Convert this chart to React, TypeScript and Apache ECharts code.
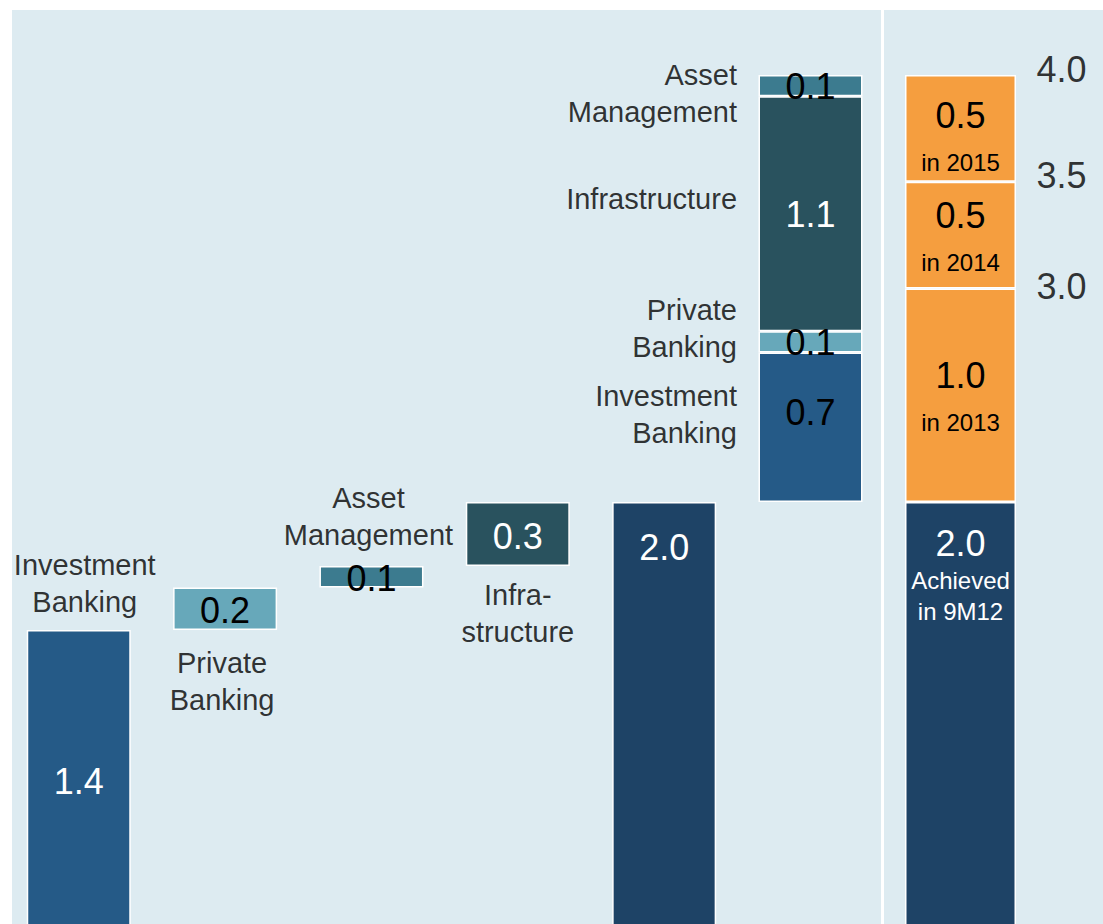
import React, { useEffect, useRef } from 'react';
import * as echarts from 'echarts';

// ---- data ----
const divisions = ['Investment Banking', 'Private Banking', 'Asset Management', 'Infrastructure'];
const waterfallLabels = ['Investment\nBanking', 'Private\nBanking', 'Asset\nManagement', 'Infra-\nstructure'];
const stackLabels = ['Investment\nBanking', 'Private\nBanking', 'Asset\nManagement', 'Infrastructure'];
const achievedValues = [1.4, 0.2, 0.1, 0.3]; // achieved in 9M12 per division
const potentialValues = [0.7, 0.1, 0.1, 1.1]; // further potential per division
const stackOrder = [0, 1, 3, 2]; // bottom -> top in the stacked column
const targetYears = ['2013', '2014', '2015'];
const targetValues = [1.0, 0.5, 0.5];
const achievedCaption = ['Achieved', 'in 9M12'];

const colors = ['#255a87', '#67a8ba', '#3c7b8f', '#29525e'];
const totalColor = '#1e4366';
const orange = '#f59e3f';
const bg = '#ddebf1';
const FONT = "'Liberation Sans', Arial, sans-serif";
const INK = '#000';

const fmt = (v: number) => v.toFixed(1);

export default function App() {
  const ref = useRef<HTMLDivElement>(null);
  useEffect(() => {
    document.body.style.margin = '0';
    if (!ref.current) return;
    const chart = echarts.init(ref.current, undefined, { renderer: 'svg' });

    const total = achievedValues.reduce((a, b) => a + b, 0);
    const bases: number[] = [];
    let acc = 0;
    achievedValues.forEach((v) => {
      bases.push(acc);
      acc += v;
    });
    const cats0 = [...divisions, 'Total', 'Potential'];
    const nCol = cats0.length;

    const baseSeries = {
      type: 'bar',
      xAxisIndex: 0,
      yAxisIndex: 0,
      stack: 'w',
      barWidth: 104,
      silent: true,
      itemStyle: { color: 'rgba(0,0,0,0)' },
      data: [...bases, 0, total],
    };

    const waterfallTextColor = ['#fff', INK, INK, '#fff'];
    const stackTextColor = [INK, INK, INK, '#fff'];
    const stackTextOffset = [[0, -15], [0, 1], [0, 1], [0, 1]];

    const divisionSeries = stackOrder.map((d) => {
      const data: any[] = new Array(nCol).fill('-');
      data[d] = {
        value: achievedValues[d],
        label: {
          show: true,
          position: 'inside',
          color: waterfallTextColor[d],
          offset: [0, 2],
          formatter: fmt(achievedValues[d]),
        },
      };
      data[5] = {
        value: potentialValues[d],
        label: {
          show: true,
          position: 'inside',
          color: stackTextColor[d],
          offset: stackTextOffset[d],
          formatter: fmt(potentialValues[d]),
        },
      };
      return {
        type: 'bar',
        name: divisions[d],
        xAxisIndex: 0,
        yAxisIndex: 0,
        stack: 'w',
        barWidth: 104,
        itemStyle: { color: colors[d], borderColor: '#fff', borderWidth: 1.5 },
        label: { fontFamily: FONT, fontSize: 36 },
        data,
      };
    });

    const totalData: any[] = new Array(nCol).fill('-');
    totalData[4] = {
      value: total,
      label: {
        show: true,
        position: 'insideTop',
        distance: 27,
        color: '#fff',
        lineHeight: 36,
        formatter: fmt(total),
      },
    };
    const totalSeries = {
      type: 'bar',
      name: 'Total',
      xAxisIndex: 0,
      yAxisIndex: 0,
      stack: 'w',
      barWidth: 104,
      itemStyle: { color: totalColor, borderColor: '#fff', borderWidth: 1.5 },
      label: { fontFamily: FONT, fontSize: 36 },
      data: totalData,
    };

    // annotation labels for the waterfall bars
    const wfDist = [9, 14, 12, 10];
    const wfOffX = [6, -3, -3, 0];
    const wfAnnot = divisions.map((_, i) => {
      const top = i % 2 === 0;
      return {
        value: [i, top ? bases[i] + achievedValues[i] : bases[i]],
        label: {
          show: true,
          position: top ? 'top' : 'bottom',
          distance: wfDist[i],
          offset: [wfOffX[i], 0],
          formatter: waterfallLabels[i],
        },
      };
    });
    // annotation labels for the stacked potential column
    const stOffY = [-12.5, -13.5, 7.5, -15];
    let sAcc = total;
    const stAnnot = stackOrder.map((d) => {
      const mid = sAcc + potentialValues[d] / 2;
      sAcc += potentialValues[d];
      return {
        value: [5, mid],
        label: {
          show: true,
          position: 'left',
          distance: 73,
          align: 'right',
          offset: [0, stOffY[d]],
          formatter: stackLabels[d],
        },
      };
    });
    const annotSeries = {
      type: 'scatter',
      xAxisIndex: 0,
      yAxisIndex: 0,
      symbolSize: 1,
      silent: true,
      clip: false,
      itemStyle: { color: 'rgba(0,0,0,0)' },
      label: { fontFamily: FONT, fontSize: 29, lineHeight: 37, color: INK },
      data: [...wfAnnot, ...stAnnot],
    };

    // target column (grid 1)
    const targetBase = {
      type: 'bar',
      xAxisIndex: 1,
      yAxisIndex: 1,
      stack: 't',
      barWidth: 111,
      itemStyle: { color: totalColor, borderColor: '#fff', borderWidth: 1.5 },
      label: {
        show: true,
        position: 'insideTop',
        distance: 19,
        color: '#fff',
        formatter: `{v|${fmt(total)}}\n{s|${achievedCaption[0]}}\n{s|${achievedCaption[1]}}`,
        rich: {
          v: { fontFamily: FONT, fontSize: 36, lineHeight: 44, color: '#fff' },
          s: { fontFamily: FONT, fontSize: 24, lineHeight: 31, color: '#fff' },
        },
      },
      data: [total],
    };
    const yearOffsets = [[0, 5], [0, 5], [0, 12]];
    const yearSeries = targetYears.map((y, i) => ({
      type: 'bar',
      name: y,
      xAxisIndex: 1,
      yAxisIndex: 1,
      stack: 't',
      barWidth: 111,
      itemStyle: { color: orange, borderColor: '#fff', borderWidth: 1.5 },
      label: {
        show: true,
        position: 'inside',
        offset: yearOffsets[i],
        formatter: `{v|${fmt(targetValues[i])}}\n{s|in ${y}}`,
        rich: {
          v: { fontFamily: FONT, fontSize: 36, lineHeight: 44, color: INK },
          s: { fontFamily: FONT, fontSize: 24, lineHeight: 50, color: INK },
        },
      },
      data: [targetValues[i]],
    }));
    const cumOff = [-2.5, -6, -5.5];
    let cAcc = total;
    const cumData = targetValues.map((v, i) => {
      cAcc += v;
      return {
        value: [0, cAcc],
        label: {
          show: true,
          position: 'right',
          distance: 75.5,
          offset: [0, cumOff[i]],
          formatter: fmt(cAcc),
        },
      };
    });
    const cumSeries = {
      type: 'scatter',
      xAxisIndex: 1,
      yAxisIndex: 1,
      symbolSize: 1,
      silent: true,
      clip: false,
      itemStyle: { color: 'rgba(0,0,0,0)' },
      label: { fontFamily: FONT, fontSize: 36, color: INK },
      data: cumData,
    };

    chart.setOption({
      animation: false,
      backgroundColor: '#fff',
      graphic: [
        { type: 'rect', z: -10, shape: { x: 12, y: 10, width: 1091, height: 940 }, style: { fill: bg } },
        { type: 'rect', z: -9, shape: { x: 881, y: 10, width: 3, height: 940 }, style: { fill: '#fff' } },
      ],
      grid: [
        { left: 5.58, top: 75, width: 878.1, height: 854 },
        { left: 900, top: 75, width: 121, height: 854 },
      ],
      xAxis: [
        { type: 'category', gridIndex: 0, data: cats0, show: false },
        { type: 'category', gridIndex: 1, data: ['Target'], show: false },
      ],
      yAxis: [
        { type: 'value', gridIndex: 0, min: 0, max: 4, show: false },
        { type: 'value', gridIndex: 1, min: 0, max: 4, show: false },
      ],
      series: [baseSeries, ...divisionSeries, totalSeries, annotSeries, targetBase, ...yearSeries, cumSeries],
    });
    return () => chart.dispose();
  }, []);
  return (
    <div style={{ width: 1103, height: 924, overflow: 'hidden' }}>
      <div ref={ref} style={{ width: 1103, height: 940 }} />
    </div>
  );
}
